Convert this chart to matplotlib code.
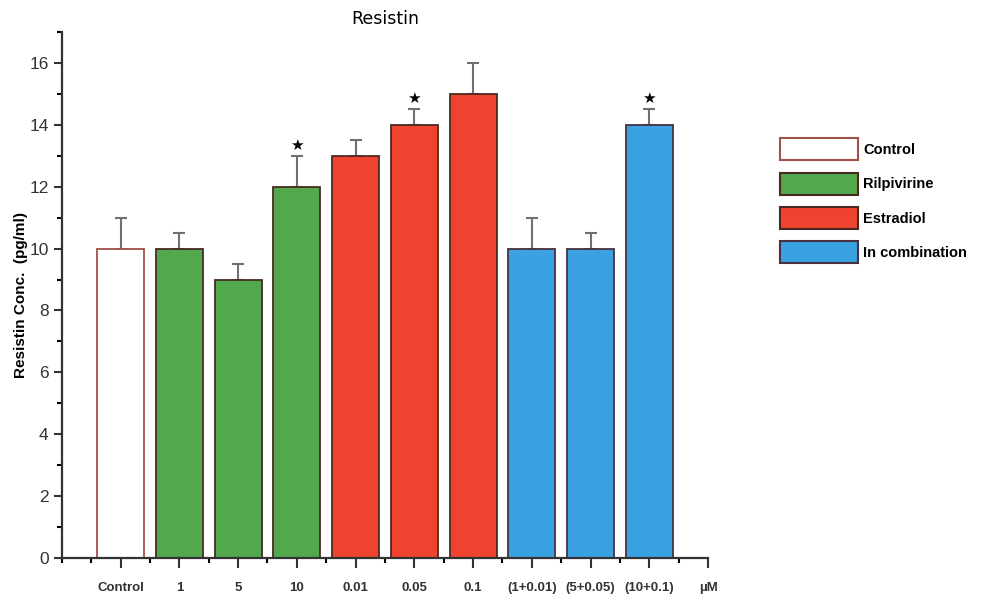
import matplotlib
matplotlib.use("Agg")
import matplotlib.pyplot as plt
from matplotlib.patches import Patch
from matplotlib.ticker import MultipleLocator

plt.rcParams["font.family"] = ["Liberation Sans", "DejaVu Sans"]

# data
labels = ["Control", "1", "5", "10", "0.01", "0.05", "0.1",
          "(1+0.01)", "(5+0.05)", "(10+0.1)"]
values = [10, 10, 9, 12, 13, 14, 15, 10, 10, 14]
errors = [1.0, 0.5, 0.5, 1.0, 0.5, 0.5, 1.0, 1.0, 0.5, 0.5]
groups = ["Control", "Rilpivirine", "Rilpivirine", "Rilpivirine",
          "Estradiol", "Estradiol", "Estradiol",
          "In combination", "In combination", "In combination"]
significant = [False, False, False, True, False, True, False, False, False, True]

group_names = ["Control", "Rilpivirine", "Estradiol", "In combination"]
group_fill = {"Control": "#ffffff", "Rilpivirine": "#52a84c",
              "Estradiol": "#ee432e", "In combination": "#3aa2e3"}
group_edge = {"Control": "#a0524a", "Rilpivirine": "#4a2a20",
              "Estradiol": "#4a2a20", "In combination": "#4a3040"}

fig = plt.figure(figsize=(9.82, 5.96), dpi=100)
ax = fig.add_axes([0.063, 0.064, 0.658, 0.882])

x = list(range(len(labels)))
for i in x:
    g = groups[i]
    ax.bar(i, values[i], width=0.8, color=group_fill[g],
           edgecolor=group_edge[g], linewidth=1.3, zorder=2)
    ax.errorbar(i, values[i], yerr=[[0], [errors[i]]], fmt="none",
                ecolor="#707070", elinewidth=1.5, capsize=4, capthick=1.5, zorder=1)
    if significant[i]:
        ax.text(i, values[i] + errors[i] + 0.1, "\u2605", ha="center", va="bottom",
                fontsize=11, family="DejaVu Sans")

ax.set_xlim(-1, 10)
ax.set_ylim(0, 17)
ax.set_xticks(x + [10])
ax.set_xticklabels(labels + ["\u00b5M"], fontsize=9.5, fontweight="bold", color="#333333")
ax.xaxis.set_minor_locator(MultipleLocator(0.5))
ax.yaxis.set_major_locator(MultipleLocator(2))
ax.yaxis.set_minor_locator(MultipleLocator(1))
ax.tick_params(axis="y", labelsize=12.5, width=1.5, length=6, direction="out", colors="#333333")
ax.tick_params(axis="y", which="minor", width=1.5, length=3.5)
ax.tick_params(axis="x", width=1.5, length=7, direction="out", pad=10.5, colors="#333333")
ax.tick_params(axis="x", which="minor", width=1.5, length=3.5, direction="out")
ax.set_yticks(range(0, 17, 2))

for side in ["top", "right"]:
    ax.spines[side].set_visible(False)
for side in ["left", "bottom"]:
    ax.spines[side].set_linewidth(1.6)
    ax.spines[side].set_color("#333333")

ax.set_ylabel("Resistin Conc.  (pg/ml)", fontsize=11, fontweight="bold", labelpad=1)
ax.set_title("Resistin", fontsize=12.5, family="DejaVu Sans", pad=6, x=0.5)

handles = [Patch(facecolor=group_fill[g], edgecolor=group_edge[g], linewidth=1.5, label=g)
           for g in group_names]
fig.legend(handles=handles, loc="upper left", bbox_to_anchor=(0.781, 0.79),
           frameon=False, handlelength=5.33, handleheight=1.94, labelspacing=0.85,
           handletextpad=0.35, prop={"size": 10.5, "weight": "bold"})

fig.savefig("out.png", dpi=100)
